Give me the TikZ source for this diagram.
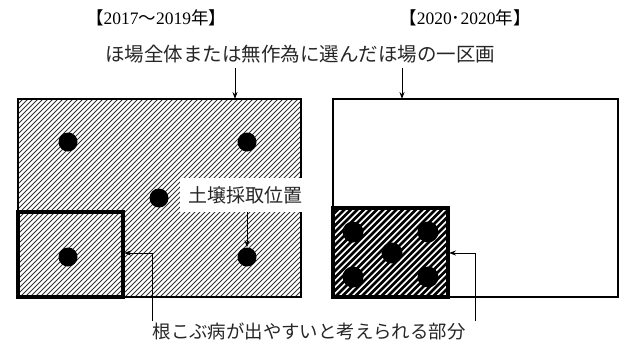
\documentclass[tikz,border=0pt]{standalone}
\usepackage{fontspec}
\setmainfont{Liberation Serif}
\newfontfamily\jp{Noto Sans CJK JP}
\usetikzlibrary{arrows.meta}
\tikzset{
  jptext/.style={font=\jp\fontsize{#1}{#1}\selectfont, inner sep=1pt, text=black!85},
  conn/.style={line width=0.9pt, -{Stealth[length=7pt,width=5pt]}},
  field/.style={draw, line width=1.3pt},
  zone/.style={draw, line width=3.4pt},
  dot/.style={circle, fill=black, inner sep=0pt, minimum size=#1},
  thin hatch/.style={line width=0.9pt, black!80},
  thick hatch/.style={line width=2.5pt}
}
\begin{document}
\begin{tikzpicture}[x=1pt,y=-1pt]
\useasboundingbox (0,0) rectangle (623,349);
% left field hatching
\begin{scope}
  \clip (18,99) rectangle (301,297);
  \foreach \i in {-220,-215,...,305}
    \draw[thin hatch] (\i,297) -- ++(220,-220);
\end{scope}
\draw[field] (18,99) rectangle (301,297);
\draw[zone] (18,212) rectangle (123,297);
\coordinate (LZr) at (124,253);
\node[dot=19pt] (d1) at (68,142) {};
\node[dot=19pt] (d2) at (247,142) {};
\node[dot=19pt] (d3) at (159,198) {};
\node[dot=19pt] (d4) at (68,257) {};
\node[dot=19pt] (d5) at (247,257) {};
\node[jptext=19, fill=white, minimum width=130pt, minimum height=34pt] (soil) at (245,195) {土壌採取位置};
\draw[conn] (soil.south -| d5) -- (d5.north);
% right field
\draw[field] (333,99) rectangle (618,297);
\begin{scope}
  \clip (333,208) rectangle (448,297);
  \foreach \i in {-120,-113.5,...,460}
    \draw[thick hatch] (\i,297) -- ++(120,-120);
\end{scope}
\draw[zone] (333,208) rectangle (448,297);
\coordinate (RZr) at (449,253);
\node[dot=21pt] (e1) at (353,232) {};
\node[dot=21pt] (e2) at (428,232) {};
\node[dot=21pt] (e3) at (392,253) {};
\node[dot=21pt] (e4) at (353,277) {};
\node[dot=21pt] (e5) at (428,277) {};
% titles
\node[inner sep=0pt, font=\fontsize{17.5}{17.5}\selectfont] (t1) at (156,18) {{\jp 【}2017{\jp ～}2019{\jp 年】}};
\node[inner sep=0pt, font=\fontsize{17.5}{17.5}\selectfont] (t2) at (465,18) {{\jp 【}2020{\jp ･}2020{\jp 年】}};
\node[jptext=19.5] (top) at (300,54) {ほ場全体または無作為に選んだほ場の一区画};
\coordinate (LT) at (235,99);
\coordinate (RT) at (402,99);
\draw[conn] (top.south -| LT) ++(0,4) -- (LT);
\draw[conn] (top.south -| RT) ++(0,4) -- (RT);
% bottom label
\node[jptext=18.4] (bot) at (309,331) {根こぶ病が出やすいと考えられる部分};
\coordinate (LB) at (152,321);
\coordinate (RB) at (475,321);
\draw[conn] (LB) |- (LZr);
\draw[conn] (RB) |- (RZr);
\end{tikzpicture}
\end{document}
